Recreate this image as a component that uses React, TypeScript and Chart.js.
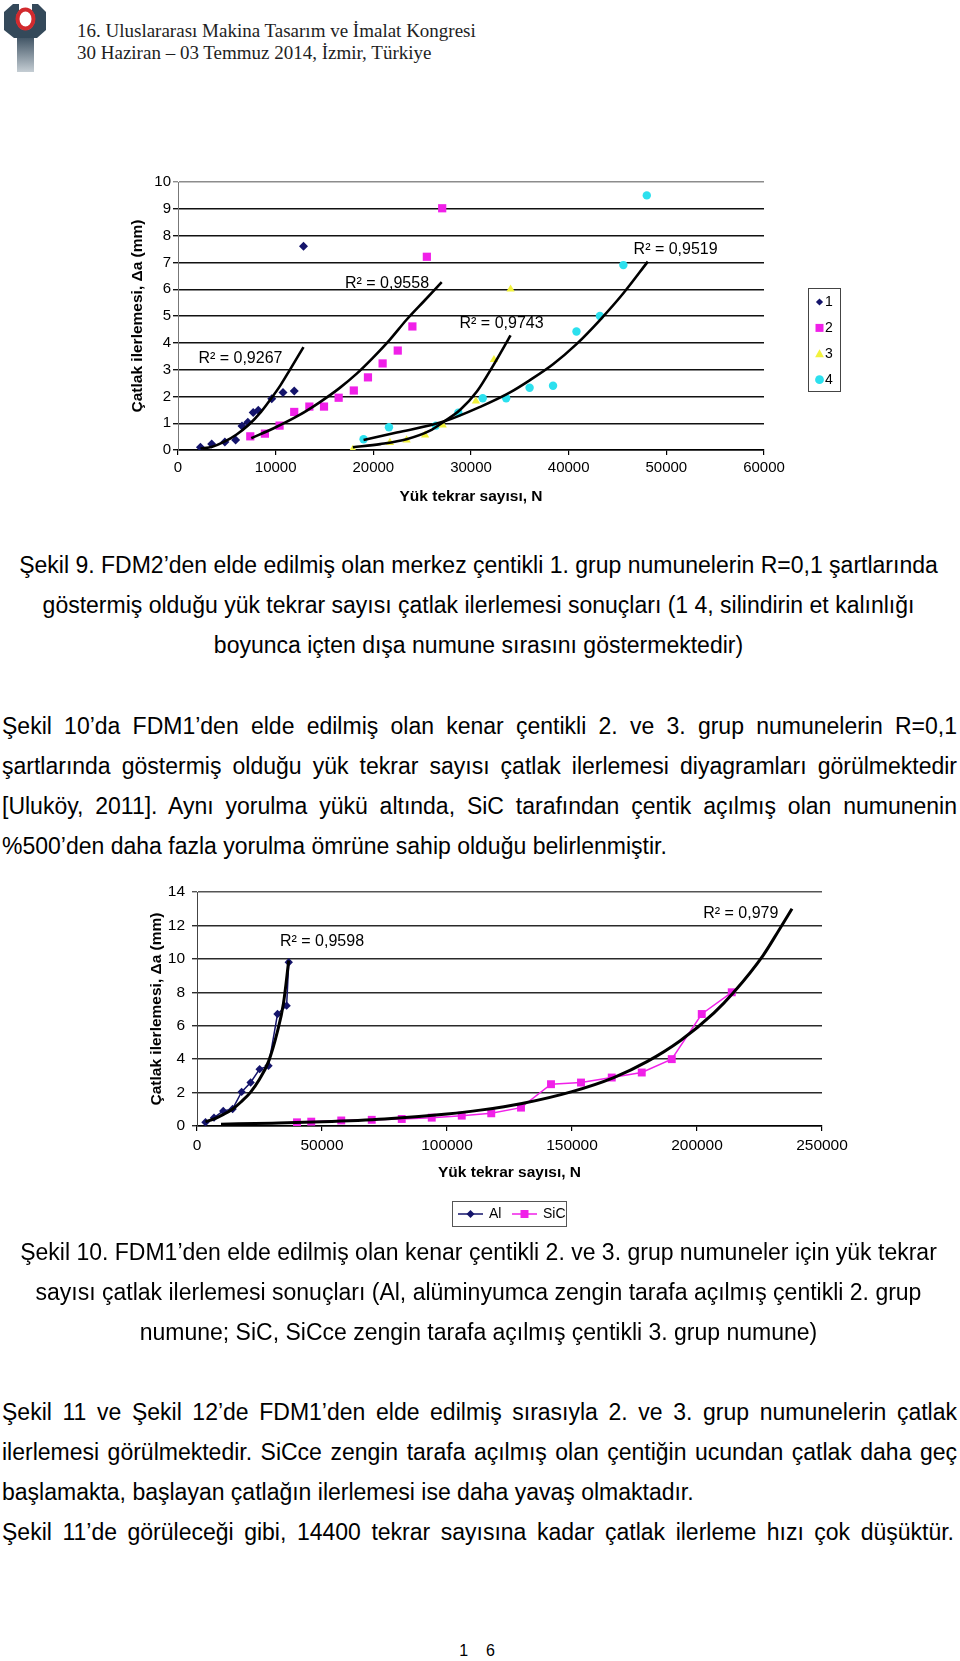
import React, { useEffect, useRef } from "react";
import { Chart, registerables } from "chart.js";

Chart.register(...registerables);

type P = [number, number];

const FONT = '"Liberation Sans", Arial, Helvetica, sans-serif';
const SERIF = '"Liberation Serif", "Times New Roman", Times, serif';

const NAVY = "#14146b";
const MAGENTA = "#f020e8";
const YELLOW = "#f2f23c";
const CYAN = "#2ce0ee";

// ---------------- Şekil 9 data (N, Δa) ----------------
const fig9XTicks = [0, 10000, 20000, 30000, 40000, 50000, 60000];
const fig9YTicks = [0, 1, 2, 3, 4, 5, 6, 7, 8, 9, 10];

const fig9S1: P[] = [
  [2300, 0.1], [3450, 0.22], [4800, 0.3], [5900, 0.37], [6550, 0.9], [7150, 1.04],
  [7700, 1.4], [8220, 1.48], [9600, 1.91], [10750, 2.15], [11900, 2.2], [12850, 7.6],
];
const fig9S2: P[] = [
  [7400, 0.51], [8900, 0.61], [10400, 0.91], [11900, 1.42], [13450, 1.62], [14950, 1.62],
  [16450, 1.95], [18000, 2.22], [19450, 2.71], [20950, 3.23], [22500, 3.71], [24000, 4.61],
  [25480, 7.21], [27050, 9.02],
];
const fig9S3: P[] = [
  [17900, 0.02], [21700, 0.28], [23400, 0.37], [25300, 0.56], [27100, 0.93],
  [30500, 1.82], [32350, 3.37], [34050, 6.0],
];
const fig9S4: P[] = [
  [19000, 0.4], [21600, 0.85], [26400, 0.91], [28700, 1.39], [31200, 1.93], [33600, 1.93],
  [36000, 2.32], [38400, 2.4], [40800, 4.42], [43200, 5.0], [45600, 6.9], [48000, 9.5],
];

const fig9T1: P[] = [
  [2300, 0.05], [3500, 0.12], [4700, 0.3], [6000, 0.58], [7250, 0.94], [8500, 1.42],
  [9500, 1.9], [10500, 2.42], [11500, 3.02], [12850, 3.84],
];
const fig9T2: P[] = [
  [7500, 0.44], [10000, 0.85], [12400, 1.3], [14500, 1.78], [16500, 2.3], [18300, 2.85],
  [19900, 3.42], [21700, 4.12], [23400, 4.86], [25200, 5.56], [27000, 6.26],
];
const fig9T3: P[] = [
  [17900, 0.1], [20700, 0.22], [23400, 0.4], [25800, 0.72], [27200, 1.05], [28900, 1.5],
  [30600, 2.18], [32300, 3.17], [34050, 4.28],
];
const fig9T4: P[] = [
  [19000, 0.37], [22400, 0.65], [27200, 1.06], [31000, 1.62], [34000, 2.15], [36000, 2.6],
  [38400, 3.2], [40800, 3.95], [43200, 4.85], [45600, 5.85], [48100, 7.03],
];

const fig9Labels = ["1", "2", "3", "4"];
const fig9R2Text = ["R² = 0,9267", "R² = 0,9558", "R² = 0,9743", "R² = 0,9519"];
const fig9R2At: P[] = [[6390, 3.4], [21400, 6.2], [33130, 4.73], [50950, 7.49]];

// ---------------- Şekil 10 data (N, Δa) ----------------
const fig10XTicks = [0, 50000, 100000, 150000, 200000, 250000];
const fig10YTicks = [0, 2, 4, 6, 8, 10, 12, 14];

const fig10Al: P[] = [
  [3400, 0.22], [6800, 0.5], [10500, 0.9], [14250, 1.02], [17850, 2.04], [21450, 2.6],
  [25050, 3.4], [28600, 3.6], [32200, 6.7], [35850, 7.2], [36700, 9.8],
];
const fig10SiC: P[] = [
  [40000, 0.22], [45700, 0.26], [57700, 0.33], [69900, 0.37], [81900, 0.42], [93900, 0.5],
  [105900, 0.62], [117700, 0.76], [129600, 1.1], [141600, 2.5], [153600, 2.6], [165900, 2.9],
  [177900, 3.2], [189900, 4.0], [201900, 6.7], [213900, 8.0],
];
const fig10AlTrend: P[] = [
  [3400, 0.25], [6800, 0.42], [10400, 0.68], [14300, 1.02], [17700, 1.45], [21300, 2.0],
  [25000, 2.8], [28600, 3.85], [32000, 5.55], [34600, 7.35], [36700, 9.9],
];
const fig10SiCTrend: P[] = [
  [9600, 0.11], [30000, 0.17], [50000, 0.25], [75000, 0.42], [100000, 0.72], [113300, 0.95],
  [130000, 1.35], [150000, 2.06], [166700, 2.9], [180000, 3.85], [193300, 5.1],
  [206700, 6.75], [214700, 8.0], [226400, 10.2], [232700, 11.7], [238000, 13.0],
];
const fig10Labels = ["Al", "SiC"];
const fig10R2Text = ["R² = 0,9598", "R² = 0,979"];
const fig10R2At: P[] = [[50000, 11.03], [217500, 12.73]];

// ---------------- Text ----------------
const headerLines = [
  "16. Uluslararası Makina Tasarım ve İmalat Kongresi",
  "30 Haziran – 03 Temmuz 2014, İzmir, Türkiye",
];
const caption9 = [
  "Şekil 9. FDM2’den elde edilmiş olan merkez çentikli 1. grup numunelerin R=0,1 şartlarında",
  "göstermiş olduğu yük tekrar sayısı çatlak ilerlemesi sonuçları (1 4, silindirin et kalınlığı",
  "boyunca içten dışa numune sırasını göstermektedir)",
];
const para1 = [
  "Şekil 10’da FDM1’den elde edilmiş olan kenar çentikli 2. ve 3. grup numunelerin R=0,1",
  "şartlarında göstermiş olduğu yük tekrar sayısı çatlak ilerlemesi diyagramları görülmektedir",
  "[Uluköy, 2011]. Aynı yorulma yükü altında, SiC tarafından çentik açılmış olan numunenin",
  "%500’den daha fazla yorulma ömrüne sahip olduğu belirlenmiştir.",
];
const caption10 = [
  "Şekil 10. FDM1’den elde edilmiş olan kenar çentikli 2. ve 3. grup numuneler için yük tekrar",
  "sayısı çatlak ilerlemesi sonuçları (Al, alüminyumca zengin tarafa açılmış çentikli 2. grup",
  "numune; SiC, SiCce zengin tarafa açılmış çentikli 3. grup numune)",
];
const para2 = [
  "Şekil 11 ve Şekil 12’de FDM1’den elde edilmiş sırasıyla 2. ve 3. grup numunelerin çatlak",
  "ilerlemesi görülmektedir. SiCce zengin tarafa açılmış olan çentiğin ucundan çatlak daha geç",
  "başlamakta, başlayan çatlağın ilerlemesi ise daha yavaş olmaktadır.",
];
const para3 = [
  "Şekil 11’de görüleceği gibi, 14400 tekrar sayısına kadar çatlak ilerleme hızı çok düşüktür.",
];
const pageNumber = "1    6";

// ---------------- helpers ----------------
const toXY = (arr: P[]) => arr.map(([x, y]) => ({ x, y }));

function drawMarker(ctx: CanvasRenderingContext2D, style: string, x: number, y: number, r: number, color: string) {
  ctx.fillStyle = color;
  ctx.beginPath();
  if (style === "rectRot") {
    ctx.moveTo(x, y - r);
    ctx.lineTo(x + r, y);
    ctx.lineTo(x, y + r);
    ctx.lineTo(x - r, y);
    ctx.closePath();
  } else if (style === "rect") {
    ctx.rect(x - r, y - r, 2 * r, 2 * r);
  } else if (style === "triangle") {
    ctx.moveTo(x, y - r);
    ctx.lineTo(x + r * 0.95, y + r * 0.75);
    ctx.lineTo(x - r * 0.95, y + r * 0.75);
    ctx.closePath();
  } else {
    ctx.arc(x, y, r, 0, Math.PI * 2);
  }
  ctx.fill();
}

function r2Plugin(texts: string[], at: P[], size: number) {
  return {
    id: "r2labels",
    afterDatasetsDraw(chart: any) {
      const { ctx, scales } = chart;
      ctx.save();
      ctx.font = `${size}px ${FONT}`;
      ctx.fillStyle = "#000";
      ctx.textAlign = "center";
      ctx.textBaseline = "middle";
      texts.forEach((t, i) => {
        ctx.fillText(t, scales.x.getPixelForValue(at[i][0]), scales.y.getPixelForValue(at[i][1]));
      });
      ctx.restore();
    },
  };
}

const fig9LegendPlugin = {
  id: "fig9legend",
  afterDraw(chart: any) {
    const ctx: CanvasRenderingContext2D = chart.ctx;
    const sets = chart.data.datasets.filter((d: any) => d.legendItem);
    ctx.save();
    ctx.fillStyle = "#fff";
    ctx.fillRect(708.5, 128.5, 32, 103);
    ctx.strokeStyle = "#444";
    ctx.lineWidth = 1;
    ctx.strokeRect(708.5, 128.5, 32, 103);
    ctx.font = `14px ${FONT}`;
    ctx.textAlign = "left";
    ctx.textBaseline = "middle";
    sets.forEach((d: any, i: number) => {
      const cy = 142 + i * 25.9;
      const r = d.pointStyle === "rect" ? 4 : d.pointStyle === "circle" ? 4.4 : d.pointStyle === "triangle" ? 4.6 : 3.6;
      drawMarker(ctx, d.pointStyle, 719.5, cy, r, d.backgroundColor);
      ctx.fillStyle = "#000";
      ctx.fillText(d.label, 725, cy + 0.5);
    });
    ctx.restore();
  },
};

const fig10LegendPlugin = {
  id: "fig10legend",
  afterDraw(chart: any) {
    const ctx: CanvasRenderingContext2D = chart.ctx;
    const sets = chart.data.datasets.filter((d: any) => d.legendItem);
    ctx.save();
    ctx.strokeStyle = "#555";
    ctx.lineWidth = 1;
    ctx.strokeRect(332.5, 331.5, 114, 25);
    ctx.font = `14px ${FONT}`;
    ctx.textAlign = "left";
    ctx.textBaseline = "middle";
    const cy = 344;
    const starts = [338, 392];
    sets.forEach((d: any, i: number) => {
      const x0 = starts[i];
      ctx.strokeStyle = d.borderColor;
      ctx.lineWidth = 1.5;
      ctx.beginPath();
      ctx.moveTo(x0, cy);
      ctx.lineTo(x0 + 25, cy);
      ctx.stroke();
      drawMarker(ctx, d.pointStyle, x0 + 12.5, cy, 4, d.backgroundColor);
      ctx.fillStyle = "#000";
      ctx.fillText(d.label, x0 + 31, cy + 0.5);
    });
    ctx.restore();
  },
};

function scatterSet(label: string, data: P[], color: string, style: string, radius: number) {
  return {
    label,
    data: toXY(data),
    showLine: false,
    backgroundColor: color,
    borderColor: color,
    pointBackgroundColor: color,
    pointBorderColor: color,
    pointStyle: style,
    pointRadius: radius,
    pointHoverRadius: radius,
    pointBorderWidth: 0,
    legendItem: true,
    order: 2,
  };
}

function trendSet(data: P[], width: number) {
  return {
    label: "trend",
    data: toXY(data),
    showLine: true,
    borderColor: "#000",
    backgroundColor: "#000",
    borderWidth: width,
    pointRadius: 0,
    pointHoverRadius: 0,
    cubicInterpolationMode: "monotone",
    fill: false,
    order: 1,
  };
}

function fig9Config(): any {
  return {
    type: "scatter",
    data: {
      datasets: [
        scatterSet(fig9Labels[0], fig9S1, NAVY, "rectRot", 4.5),
        scatterSet(fig9Labels[1], fig9S2, MAGENTA, "rect", 5.8),
        scatterSet(fig9Labels[2], fig9S3, YELLOW, "triangle", 4.8),
        scatterSet(fig9Labels[3], fig9S4, CYAN, "circle", 4.2),
        trendSet(fig9T1, 2.6),
        trendSet(fig9T2, 2.6),
        trendSet(fig9T3, 2.6),
        trendSet(fig9T4, 2.6),
      ],
    },
    options: {
      animation: false,
      responsive: false,
      devicePixelRatio: 1,
      layout: { padding: { left: 0, top: 22, right: 96, bottom: 10 } },
      plugins: { legend: { display: false }, tooltip: { enabled: false } },
      scales: {
        x: {
          type: "linear",
          min: fig9XTicks[0],
          max: fig9XTicks[fig9XTicks.length - 1],
          afterFit: (s: any) => { s.height = 60; },
          afterBuildTicks: (s: any) => { s.ticks = fig9XTicks.map((v) => ({ value: v })); },
          ticks: { color: "#000", font: { family: FONT, size: 15 }, padding: 4, maxRotation: 0, callback: (v: any) => String(v) },
          grid: { drawOnChartArea: false, drawTicks: true, tickLength: 5, color: "#000", lineWidth: 1.2 },
          border: { display: true, color: "#000", width: 1.5 },
          title: { display: true, text: "Yük tekrar sayısı, N", color: "#000", font: { family: FONT, size: 15.5, weight: "bold" }, padding: { top: 0, bottom: 3.7 } },
        },
        y: {
          type: "linear",
          min: fig9YTicks[0],
          max: fig9YTicks[fig9YTicks.length - 1],
          afterFit: (s: any) => { s.width = 78; },
          afterBuildTicks: (s: any) => { s.ticks = fig9YTicks.map((v) => ({ value: v })); },
          ticks: { color: "#000", font: { family: FONT, size: 15 }, padding: 2, callback: (v: any) => String(v) },
          grid: { color: (c: any) => (c.tick && c.tick.value === 10 ? "#8c8c8c" : "#111"), drawTicks: true, tickLength: 5, lineWidth: 1.4 },
          border: { display: true, color: "#777", width: 1 },
          title: { display: true, text: "Çatlak ilerlemesi, Δa (mm)", color: "#000", font: { family: FONT, size: 15.5, weight: "bold" }, padding: { top: 28.7, bottom: 0 } },
        },
      },
    },
    plugins: [r2Plugin(fig9R2Text, fig9R2At, 16), fig9LegendPlugin],
  };
}

function fig10Config(): any {
  const lineSet = (label: string, data: P[], color: string, style: string, radius: number) => ({
    ...scatterSet(label, data, color, style, radius),
    showLine: true,
    borderWidth: 1.5,
    tension: 0,
  });
  return {
    type: "scatter",
    data: {
      datasets: [
        lineSet(fig10Labels[0], fig10Al, NAVY, "rectRot", 4.2),
        lineSet(fig10Labels[1], fig10SiC, MAGENTA, "rect", 5.6),
        trendSet(fig10AlTrend, 3),
        trendSet(fig10SiCTrend, 3),
      ],
    },
    options: {
      animation: false,
      responsive: false,
      devicePixelRatio: 1,
      layout: { padding: { left: 0, top: 22, right: 38, bottom: 44 } },
      plugins: { legend: { display: false }, tooltip: { enabled: false } },
      scales: {
        x: {
          type: "linear",
          min: fig10XTicks[0],
          max: fig10XTicks[fig10XTicks.length - 1],
          afterFit: (s: any) => { s.height = 70; },
          afterBuildTicks: (s: any) => { s.ticks = fig10XTicks.map((v) => ({ value: v })); },
          ticks: { color: "#000", font: { family: FONT, size: 15.5 }, padding: 5.7, maxRotation: 0, callback: (v: any) => String(v) },
          grid: { drawOnChartArea: false, drawTicks: true, tickLength: 5, color: "#000", lineWidth: 1.2 },
          border: { display: true, color: "#000", width: 1.5 },
          title: { display: true, text: "Yük tekrar sayısı, N", color: "#000", font: { family: FONT, size: 15.5, weight: "bold" }, padding: { top: 0, bottom: 13.7 } },
        },
        y: {
          type: "linear",
          min: fig10YTicks[0],
          max: fig10YTicks[fig10YTicks.length - 1],
          afterFit: (s: any) => { s.width = 77; },
          afterBuildTicks: (s: any) => { s.ticks = fig10YTicks.map((v) => ({ value: v })); },
          ticks: { color: "#000", font: { family: FONT, size: 15.5 }, padding: 7, callback: (v: any) => String(v) },
          grid: { color: (c: any) => (c.tick && c.tick.value === 14 ? "#555" : "#2a2a2a"), drawTicks: true, tickLength: 5, lineWidth: 1.4 },
          border: { display: true, color: "#444", width: 1 },
          title: { display: true, text: "Çatlak ilerlemesi, Δa (mm)", color: "#000", font: { family: FONT, size: 15.5, weight: "bold" }, padding: { top: 27.2, bottom: 0 } },
        },
      },
    },
    plugins: [r2Plugin(fig10R2Text, fig10R2At, 16), fig10LegendPlugin],
  };
}

function ChartBox(props: { left: number; top: number; width: number; height: number; make: () => any }) {
  const ref = useRef<HTMLCanvasElement | null>(null);
  useEffect(() => {
    const chart = new Chart(ref.current as HTMLCanvasElement, props.make());
    return () => chart.destroy();
  }, []);
  return (
    <canvas
      ref={ref}
      width={props.width}
      height={props.height}
      style={{ position: "absolute", left: props.left, top: props.top, width: props.width, height: props.height }}
    />
  );
}

function TextBlock(props: { lines: string[]; top: number; left: number; width: number; mode: "center" | "justify" | "justifyAll" }) {
  return (
    <div style={{ position: "absolute", left: props.left, top: props.top, width: props.width }}>
      {props.lines.map((l, i) => {
        const last = i === props.lines.length - 1;
        const justify = props.mode === "justifyAll" || (props.mode === "justify" && !last);
        return (
          <div
            key={i}
            style={{
              height: 40,
              lineHeight: "40px",
              fontSize: 23,
              textAlign: props.mode === "center" ? "center" : justify ? "justify" : "left",
              textAlignLast: props.mode === "center" ? "center" : justify ? "justify" : "left",
              whiteSpace: justify ? "normal" : "nowrap",
            } as any}
          >
            {l}
          </div>
        );
      })}
    </div>
  );
}

function Logo() {
  return (
    <svg width={50} height={74} style={{ position: "absolute", left: 1, top: 0 }}>
      <defs>
        <linearGradient id="stemGrad" x1="0" y1="0" x2="0" y2="1">
          <stop offset="0" stopColor="#34495a" />
          <stop offset="1" stopColor="#c5ced4" />
        </linearGradient>
      </defs>
      <rect x={16} y={34} width={17} height={38} fill="url(#stemGrad)" />
      <path d="M3 12 L12 4 L18 4 L18 10 L31 10 L31 4 L37 4 L45 12 L45 30 L36 38 L13 38 L3 30 Z" fill="#34495a" />
      <ellipse cx={24.5} cy={19} rx={9.5} ry={11} fill="#fff" />
      <ellipse cx={24.5} cy={19} rx={8} ry={9.5} fill="none" stroke="#d22a2e" strokeWidth={4} />
    </svg>
  );
}

export default function App() {
  return (
    <div
      style={{
        position: "absolute",
        left: 0,
        top: 0,
        width: 960,
        height: 1661,
        overflow: "hidden",
        background: "#fff",
        color: "#000",
        fontFamily: FONT,
      }}
    >
      <Logo />
      <div style={{ position: "absolute", left: 77, top: 19.6, fontFamily: SERIF, fontSize: 19, lineHeight: "22px", color: "#1e1e1e", whiteSpace: "nowrap" }}>
        {headerLines.map((l, i) => (
          <div key={i}>{l}</div>
        ))}
      </div>

      <ChartBox left={100} top={160} width={760} height={360} make={fig9Config} />

      <TextBlock lines={caption9} top={545} left={0} width={957} mode="center" />
      <TextBlock lines={para1} top={706} left={2} width={955} mode="justify" />

      <ChartBox left={120} top={870} width={740} height={370} make={fig10Config} />

      <TextBlock lines={caption10} top={1232} left={0} width={957} mode="center" />
      <TextBlock lines={para2} top={1392} left={2} width={955} mode="justify" />
      <TextBlock lines={para3} top={1512} left={2} width={952} mode="justifyAll" />

      <div style={{ position: "absolute", left: 0, width: 954, top: 1641, textAlign: "center", fontSize: 16, lineHeight: "20px", whiteSpace: "pre" }}>
        {pageNumber}
      </div>
    </div>
  );
}
